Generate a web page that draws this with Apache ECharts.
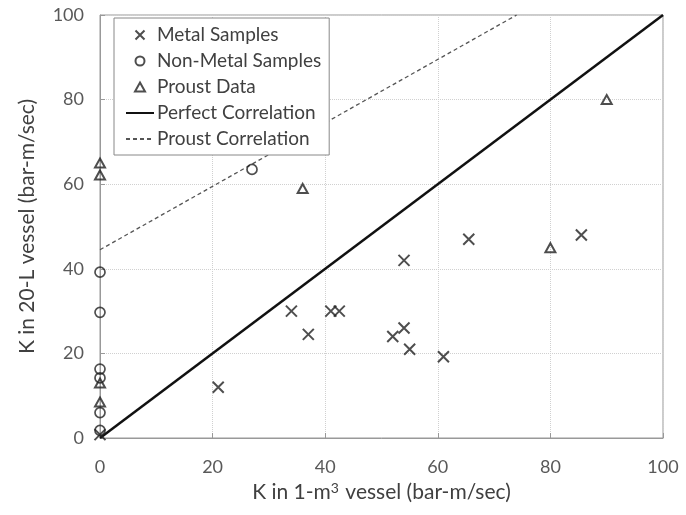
<!DOCTYPE html>
<html>
<head>
<meta charset="utf-8">
<script src="https://cdn.jsdelivr.net/npm/echarts@6/dist/echarts.min.js"></script>
<style>
  html, body { margin: 0; padding: 0; background: #fff; }
  #chart { width: 686px; height: 515px; }
</style>
</head>
<body>
<div id="chart"></div>
<script>
// values
const metalX = [0, 21, 34, 37, 41, 42.5, 52, 54, 54, 55, 61, 65.5, 85.5];
const metalY = [0.8, 12, 30, 24.5, 30, 30, 24, 26, 42, 21, 19.2, 47, 48];

const nonMetalX = [0, 0, 0, 0, 0, 0, 27];
const nonMetalY = [39.2, 29.7, 16.3, 14.2, 6, 1.8, 63.5];

const proustX = [0, 0, 0, 0, 36, 80, 90];
const proustY = [65, 62.2, 13, 8.5, 59, 45, 80];

const perfectLine = [[0, 0], [100, 100]];
const proustLine = [[0, 44.5], [74, 100]];

const axisTicks = [0, 20, 40, 60, 80, 100];

function pairs(xs, ys) {
  return xs.map(function (x, i) { return [x, ys[i]]; });
}

const crossPath = 'path://M0,0L10,10M10,0L0,10';
const trianglePath = 'path://M5,0L10,9L0,9Z';
const font = 'Lato, "Open Sans", sans-serif';

const chart = echarts.init(document.getElementById('chart'));

const option = {
  animation: false,
  textStyle: { fontFamily: font },
  grid: {
    left: 100,
    right: 23,
    top: 15,
    bottom: 77,
    show: true,
    borderColor: '#999',
    borderWidth: 1
  },
  legend: {
    orient: 'vertical',
    left: 114,
    top: 18,
    padding: [7, 8, 6, 11],
    itemGap: 6,
    itemWidth: 28,
    itemHeight: 9,
    borderColor: '#888',
    borderWidth: 1,
    backgroundColor: '#fff',
    textStyle: { fontFamily: font, fontSize: 19, color: '#404040', lineHeight: 20, padding: [0, 0, 0, -2] },
    data: ['Metal Samples', 'Non-Metal Samples', 'Proust Data', 'Perfect Correlation', 'Proust Correlation']
  },
  xAxis: {
    type: 'value',
    min: axisTicks[0],
    max: axisTicks[axisTicks.length - 1],
    interval: 20,
    name: 'K in 1-m{sup|3} vessel (bar-m/sec)',
    nameLocation: 'middle',
    nameGap: 43,
    nameTextStyle: {
      fontFamily: font,
      fontSize: 21,
      color: '#404040',
      rich: {
        sup: { fontFamily: font, fontSize: 14, color: '#404040', padding: [0, 1, 9, 0] }
      }
    },
    axisLine: { lineStyle: { color: '#999', width: 1 } },
    axisTick: { inside: true, length: 5, lineStyle: { color: '#999' } },
    axisLabel: { fontFamily: font, fontSize: 18, color: '#595959', margin: 20 },
    splitLine: { lineStyle: { color: '#d0d0d0', type: 'dotted' } }
  },
  yAxis: {
    type: 'value',
    min: axisTicks[0],
    max: axisTicks[axisTicks.length - 1],
    interval: 20,
    name: 'K in 20-L vessel (bar-m/sec)',
    nameLocation: 'middle',
    nameGap: 62,
    nameTextStyle: { fontFamily: font, fontSize: 21, color: '#404040' },
    axisLine: { show: true, lineStyle: { color: '#999', width: 1 } },
    axisTick: { show: true, inside: true, length: 5, lineStyle: { color: '#999' } },
    axisLabel: { fontFamily: font, fontSize: 18, color: '#595959', margin: 16 },
    splitLine: { lineStyle: { color: '#d0d0d0', type: 'dotted' } }
  },
  series: [
    {
      name: 'Perfect Correlation',
      type: 'line',
      data: perfectLine,
      symbol: 'none',
      z: 3,
      itemStyle: { color: 'transparent', borderColor: 'transparent', borderWidth: 0 },
      lineStyle: { color: '#111', width: 2.5 }
    },
    {
      name: 'Proust Correlation',
      type: 'line',
      data: proustLine,
      symbol: 'none',
      z: 3,
      itemStyle: { color: 'transparent', borderColor: 'transparent', borderWidth: 0 },
      lineStyle: { color: '#555', width: 1.3, type: [4, 3] }
    },
    {
      name: 'Metal Samples',
      type: 'scatter',
      data: pairs(metalX, metalY),
      symbol: crossPath,
      symbolSize: 11,
      z: 4,
      itemStyle: { color: 'transparent', borderColor: '#222', borderWidth: 2 }
    },
    {
      name: 'Non-Metal Samples',
      type: 'scatter',
      data: pairs(nonMetalX, nonMetalY),
      symbol: 'circle',
      symbolSize: 10,
      z: 4,
      itemStyle: { color: 'transparent', borderColor: '#222', borderWidth: 1.7 }
    },
    {
      name: 'Proust Data',
      type: 'scatter',
      data: pairs(proustX, proustY),
      symbol: trianglePath,
      symbolKeepAspect: true,
      symbolSize: 10,
      z: 4,
      itemStyle: { color: 'transparent', borderColor: '#222', borderWidth: 2 }
    }
  ]
};

chart.setOption(option);
</script>
</body>
</html>
